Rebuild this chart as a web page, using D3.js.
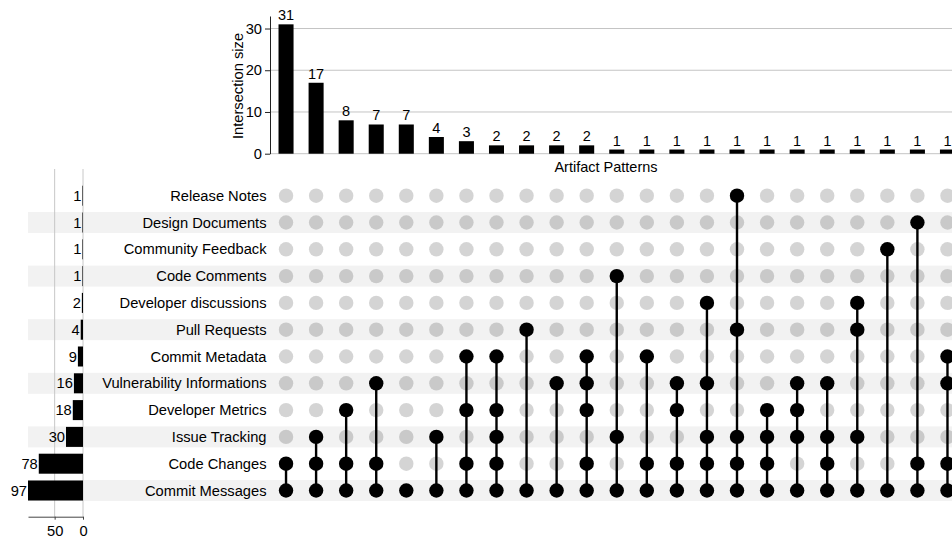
<!DOCTYPE html>
<html>
<head>
<meta charset="utf-8">
<script src="https://cdn.jsdelivr.net/npm/d3@7"></script>
<style>
    body { margin: 0; background: white; }
    svg { display: block; font-family: "Liberation Sans", Arial, sans-serif; }
    text { fill: #000; }
</style>
</head>
<body>
<div id="chart"></div>
<script>
// sets, top to bottom in the matrix
const setNames = [
    "Release Notes", "Design Documents", "Community Feedback", "Code Comments",
    "Developer discussions", "Pull Requests", "Commit Metadata", "Vulnerability Informations",
    "Developer Metrics", "Issue Tracking", "Code Changes", "Commit Messages"
];
const setSizes = [1, 1, 1, 1, 2, 4, 9, 16, 18, 30, 78, 97];

const intersectionSizes = [31, 17, 8, 7, 7, 4, 3, 2, 2, 2, 2, 1, 1, 1, 1, 1, 1, 1, 1, 1, 1, 1, 1];

const intersectionMembers = [
    ["Code Changes", "Commit Messages"],
    ["Issue Tracking", "Code Changes", "Commit Messages"],
    ["Developer Metrics", "Code Changes", "Commit Messages"],
    ["Vulnerability Informations", "Code Changes", "Commit Messages"],
    ["Commit Messages"],
    ["Issue Tracking", "Commit Messages"],
    ["Commit Metadata", "Developer Metrics", "Code Changes", "Commit Messages"],
    ["Commit Metadata", "Developer Metrics", "Issue Tracking", "Code Changes", "Commit Messages"],
    ["Pull Requests", "Commit Messages"],
    ["Vulnerability Informations", "Commit Messages"],
    ["Commit Metadata", "Vulnerability Informations", "Developer Metrics", "Code Changes", "Commit Messages"],
    ["Code Comments", "Issue Tracking", "Commit Messages"],
    ["Commit Metadata", "Code Changes", "Commit Messages"],
    ["Vulnerability Informations", "Developer Metrics", "Code Changes", "Commit Messages"],
    ["Developer discussions", "Vulnerability Informations", "Issue Tracking", "Code Changes", "Commit Messages"],
    ["Release Notes", "Pull Requests", "Issue Tracking", "Code Changes", "Commit Messages"],
    ["Developer Metrics", "Issue Tracking", "Code Changes", "Commit Messages"],
    ["Vulnerability Informations", "Developer Metrics", "Issue Tracking", "Commit Messages"],
    ["Vulnerability Informations", "Issue Tracking", "Code Changes", "Commit Messages"],
    ["Developer discussions", "Pull Requests", "Issue Tracking", "Commit Messages"],
    ["Community Feedback", "Commit Messages"],
    ["Design Documents", "Code Changes", "Commit Messages"],
    ["Commit Metadata", "Vulnerability Informations", "Code Changes", "Commit Messages"]
];

const sizeTicks = [0, 10, 20, 30];
const setTicks = [50, 0];

const width = 952;
const height = 540;
const fontSize = 14.7;

const svg = d3.select("#chart")
    .append("svg")
    .attr("width", width)
    .attr("height", height);

// scales
const x = d3.scaleBand()
    .domain(d3.range(intersectionSizes.length))
    .range([271, 962.5])
    .paddingInner(0.5)
    .paddingOuter(0.25);

const y = d3.scaleLinear()
    .domain([0, 33])
    .range([153.7, 16]);

const row = d3.scaleBand()
    .domain(setNames)
    .range([182.3, 503.9]);

const xSet = d3.scaleLinear()
    .domain([0, 97])
    .range([83, 28]);

const cx = i => x(i) + x.bandwidth() / 2;
const cy = name => row(name) + row.bandwidth() / 2;

// ---- intersection size bars ----
const barPanel = svg.append("g");

barPanel.selectAll("line.grid")
    .data(sizeTicks)
    .join("line")
    .attr("class", "grid")
    .attr("x1", 270)
    .attr("x2", width)
    .attr("y1", d => y(d))
    .attr("y2", d => y(d))
    .attr("stroke", "#c4c4c4")
    .attr("stroke-width", 1);

barPanel.selectAll("rect")
    .data(intersectionSizes)
    .join("rect")
    .attr("x", (d, i) => x(i))
    .attr("width", x.bandwidth())
    .attr("y", d => y(d))
    .attr("height", d => y(0) - y(d))
    .attr("fill", "black");

barPanel.selectAll("text.count")
    .data(intersectionSizes)
    .join("text")
    .attr("class", "count")
    .attr("x", (d, i) => cx(i))
    .attr("y", d => y(d) - 4)
    .attr("text-anchor", "middle")
    .style("font-size", "14.5px")
    .text(d => d);

const yAxis = barPanel.append("g")
    .attr("transform", "translate(270,0)")
    .call(d3.axisLeft(y).tickValues(sizeTicks).tickSize(5).tickSizeOuter(0).tickPadding(3));
yAxis.selectAll("text").style("font-size", fontSize + "px").attr("fill", "#000");
yAxis.selectAll("line, path").attr("stroke", "#222");

barPanel.append("text")
    .attr("transform", "translate(243,86) rotate(-90)")
    .attr("text-anchor", "middle")
    .style("font-size", fontSize + "px")
    .text("Intersection size");

barPanel.append("text")
    .attr("x", 606)
    .attr("y", 172)
    .attr("text-anchor", "middle")
    .style("font-size", "14.5px")
    .text("Artifact Patterns");

// ---- matrix ----
const matrix = svg.append("g");

matrix.selectAll("rect.stripe")
    .data(setNames.filter((d, i) => i % 2 === 1))
    .join("rect")
    .attr("class", "stripe")
    .attr("x", 28)
    .attr("width", width - 28)
    .attr("y", d => cy(d) - 10.5)
    .attr("height", 21)
    .attr("fill", "#f2f2f2");

// set size gridlines + axis
matrix.selectAll("line.setgrid")
    .data(setTicks)
    .join("line")
    .attr("class", "setgrid")
    .attr("x1", d => xSet(d))
    .attr("x2", d => xSet(d))
    .attr("y1", 169)
    .attr("y2", 516.7)
    .attr("stroke", "#c8c8c8");

matrix.selectAll("rect.setbar")
    .data(setNames)
    .join("rect")
    .attr("class", "setbar")
    .attr("x", (d, i) => xSet(setSizes[i]))
    .attr("width", (d, i) => xSet(0) - xSet(setSizes[i]))
    .attr("y", d => cy(d) - 10)
    .attr("height", 20)
    .attr("fill", "black");

matrix.selectAll("text.setcount")
    .data(setNames)
    .join("text")
    .attr("class", "setcount")
    .attr("x", (d, i) => xSet(setSizes[i]) - 1)
    .attr("y", d => cy(d))
    .attr("dy", "0.35em")
    .attr("text-anchor", "end")
    .style("font-size", fontSize + "px")
    .text((d, i) => setSizes[i]);

const setAxis = matrix.append("g")
    .attr("transform", "translate(0,516.7)")
    .call(d3.axisBottom(xSet).tickValues(setTicks).tickSize(3).tickSizeOuter(0).tickPadding(6));
setAxis.selectAll("text").style("font-size", fontSize + "px").attr("fill", "#000");
setAxis.selectAll("line, path").attr("stroke", "#444");

matrix.selectAll("text.setname")
    .data(setNames)
    .join("text")
    .attr("class", "setname")
    .attr("x", 266.5)
    .attr("y", d => cy(d))
    .attr("dy", "0.35em")
    .attr("text-anchor", "end")
    .style("font-size", fontSize + "px")
    .text(d => d);

// one group per intersection column, shifted to its x position
const cols = matrix.selectAll("g.col")
    .data(intersectionMembers)
    .join("g")
    .attr("class", "col")
    .attr("transform", (d, i) => `translate(${cx(i)},0)`);

cols.selectAll("circle")
    .data(members => setNames.map(name => ({ name, on: members.includes(name) })))
    .join("circle")
    .attr("cx", 0)
    .attr("cy", d => cy(d.name))
    .attr("r", 7.2)
    .attr("fill", "black")
    .attr("fill-opacity", d => d.on ? 1 : 0.17);

cols.append("line")
    .attr("x1", 0)
    .attr("x2", 0)
    .attr("y1", d => d3.min(d, name => cy(name)))
    .attr("y2", d => d3.max(d, name => cy(name)))
    .attr("stroke", "black")
    .attr("stroke-width", 2.4);
</script>
</body>
</html>
